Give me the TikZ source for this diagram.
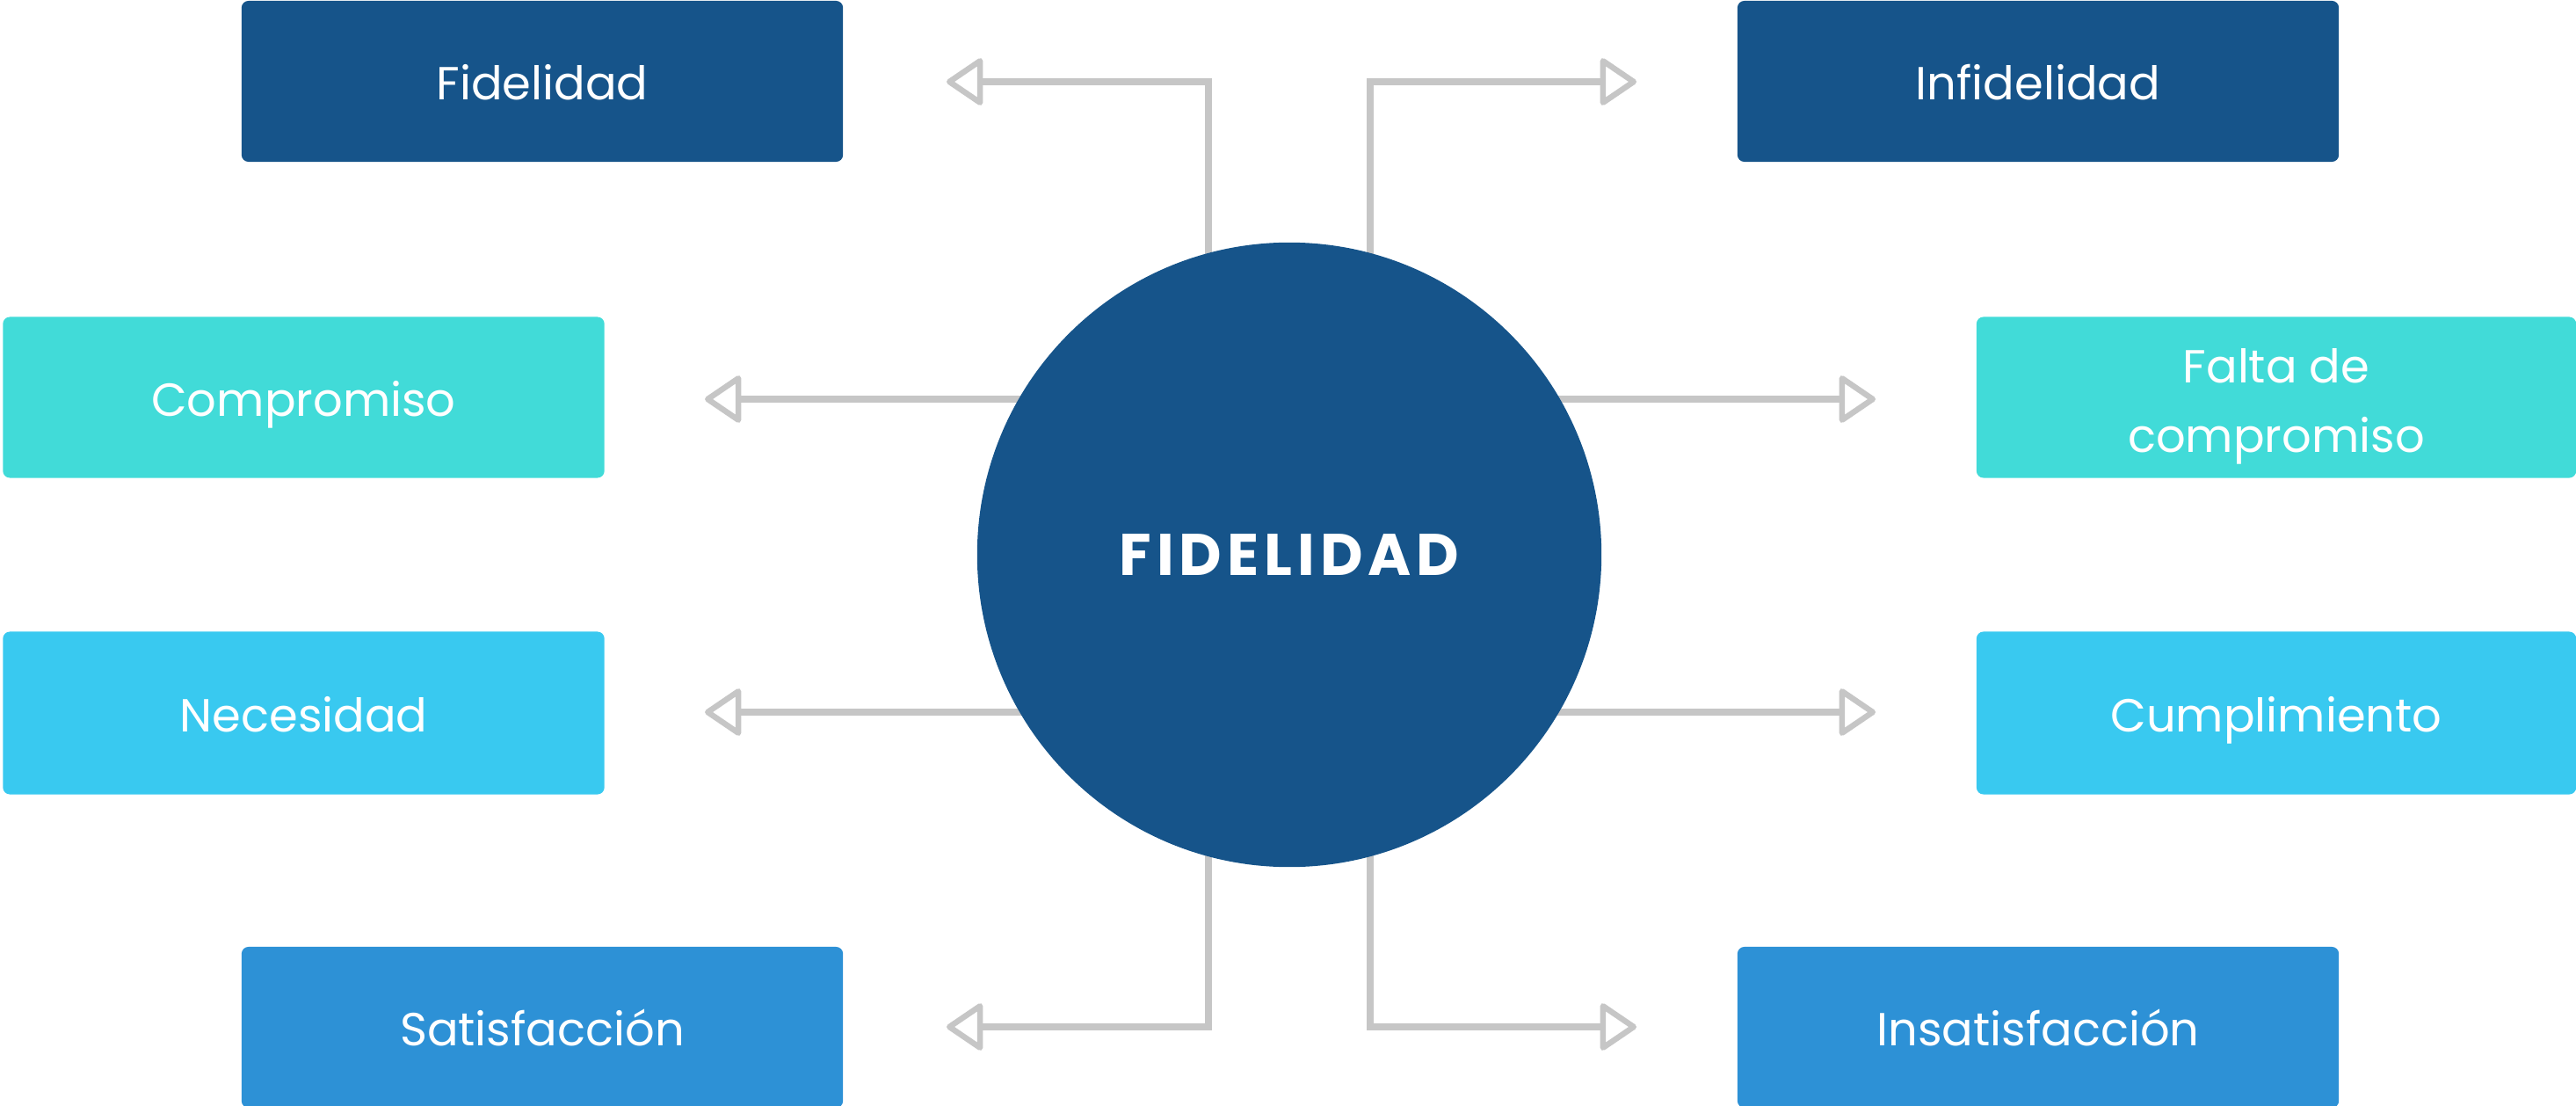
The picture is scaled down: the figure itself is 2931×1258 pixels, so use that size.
\documentclass[tikz,border=0pt]{standalone}
\usepackage{fontspec}
\setmainfont{Poppins}
\usetikzlibrary{arrows.meta,calc}
\definecolor{dblue}{HTML}{16548A}
\definecolor{teal}{HTML}{41DBD8}
\definecolor{lblue}{HTML}{39C9F0}
\definecolor{mblue}{HTML}{2D91D6}
\definecolor{lgray}{HTML}{C6C6C6}
\pgfdeclarelayer{background}
\pgfsetlayers{background,main}
\tikzset{
  box/.style={rectangle, rounded corners=0.08cm, minimum width=6.84cm, minimum height=1.83cm,
    inner sep=0pt, text=white, align=center, text height=0.42cm, text depth=0pt,
    font=\fontsize{15}{22.5}\selectfont},
  hub/.style={circle, fill=dblue, minimum size=7.10cm, inner sep=0pt, text=white,
    font=\fontsize{19}{23}\selectfont\bfseries\addfontfeatures{LetterSpace=9}},
  conn/.style={draw=lgray, line width=0.08cm,
    -{Triangle[open, length=0.44cm, width=0.58cm, round, line width=0.065cm]}}
}
\begin{document}
\begin{tikzpicture}[x=0.01cm, y=-0.01cm]
\useasboundingbox (0,0) rectangle (2931,1258);
% boxes
\node[box, fill=dblue] (fid)   at (617,92.5)    {Fidelidad};
\node[box, fill=dblue] (infid) at (2319,92.5)   {Infidelidad};
\node[box, fill=teal]  (comp)  at (345.5,452)   {Compromiso};
\node[box, fill=teal, minimum width=6.82cm, text height=1.25cm] (falta) at (2590,452) {Falta de\\compromiso};
\node[box, fill=lblue, minimum height=1.85cm] (nec)  at (345.5,811) {Necesidad};
\node[box, fill=lblue, minimum height=1.85cm, minimum width=6.82cm] (cump) at (2590,811) {Cumplimiento};
\node[box, fill=mblue] (sat)   at (617,1168.5)  {Satisfacción};
\node[box, fill=mblue] (insat) at (2319,1168.5) {Insatisfacción};
% hub
\node[hub] (circ) at (1467,631) {FIDELIDAD};
% arrow tips
\coordinate (tFL) at (1077,93);
\coordinate (tFR) at (1862,93);
\coordinate (tCL) at (802,454);
\coordinate (tCR) at (2134,454);
\coordinate (tNL) at (802,810);
\coordinate (tNR) at (2134,810);
\coordinate (tSL) at (1077,1168);
\coordinate (tSR) at (1862,1168);
\begin{pgfonlayer}{background}
\draw[conn] ($(circ.center)+(-92,0)$) |- (tFL);
\draw[conn] ($(circ.center)+(92,0)$) |- (tFR);
\draw[conn] (circ.center |- tCL) -- (tCL);
\draw[conn] (circ.center |- tCR) -- (tCR);
\draw[conn] (circ.center |- tNL) -- (tNL);
\draw[conn] (circ.center |- tNR) -- (tNR);
\draw[conn] ($(circ.center)+(-92,0)$) |- (tSL);
\draw[conn] ($(circ.center)+(92,0)$) |- (tSR);
\end{pgfonlayer}
\end{tikzpicture}
\end{document}
